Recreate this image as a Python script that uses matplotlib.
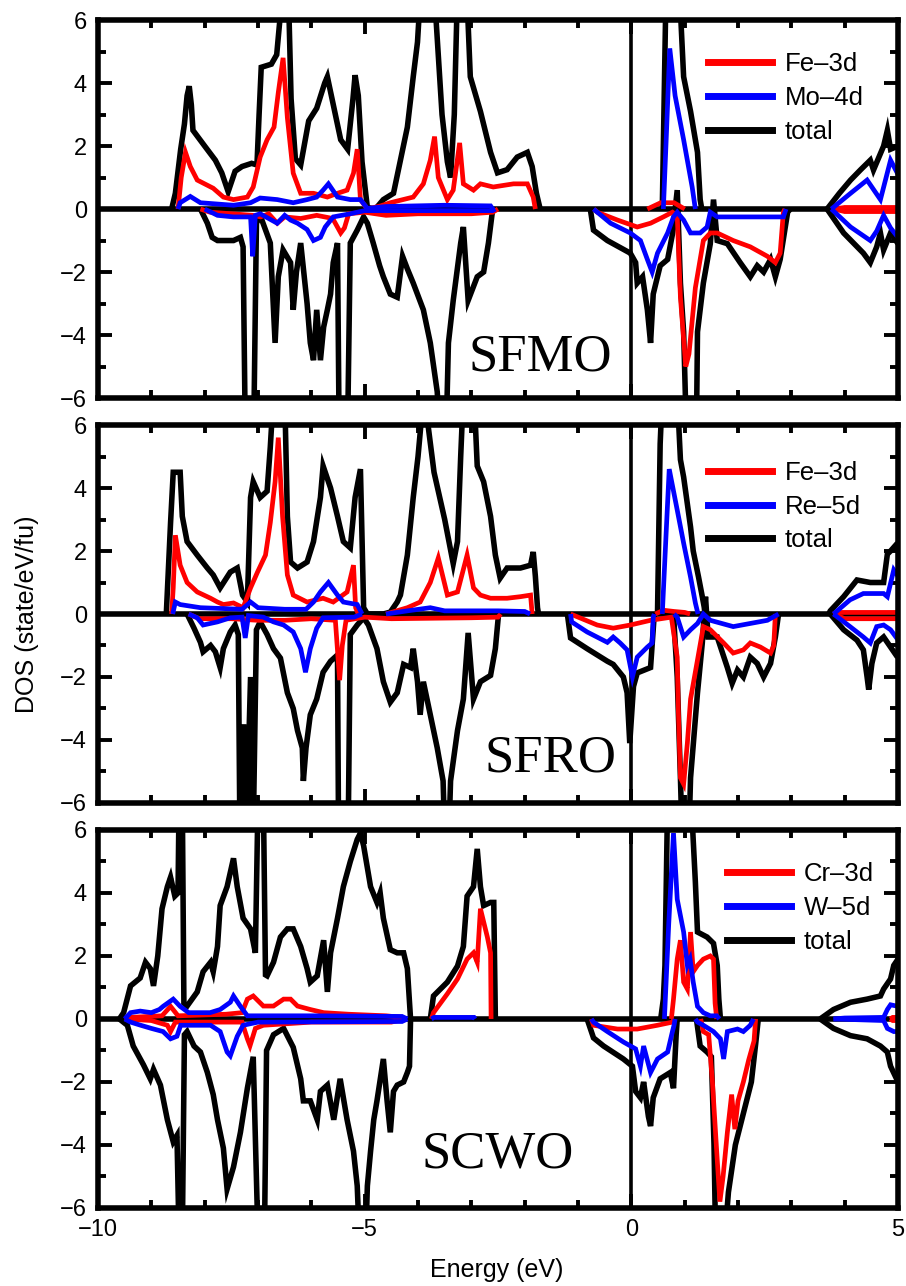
import numpy as np
import matplotlib
matplotlib.use("Agg")
import matplotlib.pyplot as plt
from matplotlib.lines import Line2D
from matplotlib.ticker import MultipleLocator

plt.rcParams["font.family"] = ["Liberation Sans", "DejaVu Sans"]

# Break marker between separate energy windows of one curve
GAP = (np.nan, np.nan)

# ---------------- SFMO: (energy eV, DOS state/eV/fu) ----------------
sfmo_total_up = [
    (-8.62, 0), (-8.55, 0.5), (-8.45, 1.9), (-8.38, 2.7), (-8.33, 3.6), (-8.29, 3.9), (-8.25, 3.3),
    (-8.22, 2.5), (-8.0, 2.0), (-7.8, 1.55), (-7.68, 1.15), (-7.56, 0.55), (-7.43, 1.2), (-7.3, 1.35),
    (-7.12, 1.45), (-7.02, 1.4), (-6.98, 3.0), (-6.94, 4.5), (-6.75, 4.6), (-6.65, 4.9), (-6.58, 6.2),
    (-6.52, 6.8), (-6.42, 6.2), (-6.38, 3.5), (-6.3, 1.6), (-6.2, 1.4), (-6.05, 2.8), (-5.9, 3.2),
    (-5.75, 4.0), (-5.7, 4.2), (-5.55, 3.0), (-5.45, 2.2), (-5.32, 1.9), (-5.22, 3.5), (-5.18, 4.25),
    (-5.12, 3.6), (-5.05, 1.5), (-4.95, 0.05), (-4.8, 0.0), (-4.65, 0.3), (-4.46, 0.5), (-4.33, 1.55),
    (-4.2, 2.6), (-4.09, 4.2), (-4.01, 5.3), (-3.95, 7.0), (-3.75, 7.5), (-3.68, 6.5), (-3.55, 3.0),
    (-3.45, 1.5), (-3.39, 1.0), (-3.32, 3.0), (-3.26, 7.0), (-3.1, 7.5), (-3.02, 4.2), (-2.83, 3.1),
    (-2.64, 1.8), (-2.51, 1.15), (-2.33, 1.25), (-2.14, 1.65), (-1.95, 1.8), (-1.86, 1.35),
    (-1.78, 0.5), (-1.71, 0.0), GAP,
    (0.58, 0), (0.62, 4.0), (0.65, 7.0), (0.9, 7.0), (0.98, 4.2), (1.11, 3.1), (1.24, 1.8),
    (1.29, 0.3), (1.32, 0), GAP,
    (3.67, 0), (3.9, 0.5), (4.11, 0.92), (4.3, 1.25), (4.48, 1.55), (4.54, 1.24), (4.73, 2.0),
    (4.8, 2.5), (4.86, 1.9), (5.0, 2.0),
]
sfmo_total_dn = [
    (-8.08, 0), (-7.95, -0.45), (-7.86, -0.9), (-7.76, -1.0), (-7.46, -1.0), (-7.33, -0.9),
    (-7.28, -1.2), (-7.24, -7.0), (-7.08, -7.0), (-7.03, -0.45), (-6.96, -0.2), (-6.83, -0.8),
    (-6.77, -1.08), (-6.68, -4.25), (-6.62, -2.15), (-6.53, -1.3), (-6.39, -1.7), (-6.34, -3.2),
    (-6.28, -2.0), (-6.2, -1.08), (-6.08, -3.0), (-6.02, -4.25), (-5.96, -4.8), (-5.9, -3.2),
    (-5.83, -4.8), (-5.77, -3.75), (-5.7, -3.2), (-5.64, -2.7), (-5.59, -1.7), (-5.51, -1.08),
    (-5.48, -7.0), (-5.32, -7.0), (-5.27, -1.08), (-5.14, -0.67), (-5.02, -0.25), (-4.95, -0.45),
    (-4.84, -1.08), (-4.72, -1.8), (-4.65, -2.15), (-4.52, -2.7), (-4.39, -2.8), (-4.29, -1.5),
    (-4.2, -1.9), (-4.09, -2.35), (-3.9, -3.2), (-3.77, -4.25), (-3.64, -5.8), (-3.6, -7.0),
    (-3.47, -7.0), (-3.43, -4.25), (-3.34, -2.9), (-3.2, -1.08), (-3.15, -0.57), (-3.06, -2.9),
    (-2.89, -2.15), (-2.77, -2.0), (-2.68, -1.08), (-2.6, 0), GAP,
    (-0.77, 0), (-0.71, -0.67), (-0.45, -1.0), (-0.02, -1.4), (0.08, -1.7), (0.11, -2.35),
    (0.21, -2.15), (0.3, -3.2), (0.36, -4.25), (0.41, -2.7), (0.54, -1.8), (0.68, -1.6),
    (0.77, -0.8), (0.86, 0.6), (0.92, -2.35), (0.98, -3.9), (1.03, -7.0), (1.22, -7.0),
    (1.24, -3.9), (1.35, -2.35), (1.48, -1.1), (1.54, 0.3), (1.61, -1.0), (1.8, -1.1),
    (2.04, -1.7), (2.23, -2.15), (2.36, -1.8), (2.48, -2.0), (2.61, -1.6), (2.7, -2.15),
    (2.79, -1.6), (2.93, -0.1), (2.98, 0), GAP,
    (3.67, 0), (3.98, -0.76), (4.35, -1.4), (4.48, -1.7), (4.6, -1.2), (4.67, -0.76),
    (4.73, -1.3), (4.86, -0.76), (5.0, -1.1),
]
sfmo_fe_up = [
    (-8.5, 0), (-8.44, 1.0), (-8.36, 1.8), (-8.27, 1.35), (-8.14, 0.92), (-7.84, 0.66),
    (-7.65, 0.38), (-7.46, 0.3), (-7.2, 0.38), (-7.09, 0.7), (-6.96, 1.65), (-6.83, 2.2),
    (-6.7, 2.6), (-6.62, 3.7), (-6.53, 4.8), (-6.45, 2.9), (-6.34, 1.14), (-6.2, 0.5),
    (-5.96, 0.5), (-5.7, 0.38), (-5.51, 0.5), (-5.33, 0.6), (-5.21, 1.14), (-5.14, 1.9),
    (-5.08, 0.3), (-4.95, 0.0), (-4.7, 0.1), (-4.52, 0.2), (-4.09, 0.38), (-3.9, 0.8),
    (-3.77, 1.55), (-3.69, 2.3), (-3.62, 1.0), (-3.45, 0.3), (-3.34, 0.6), (-3.22, 2.1),
    (-3.15, 0.8), (-2.96, 0.6), (-2.83, 0.8), (-2.59, 0.7), (-2.21, 0.8), (-1.95, 0.8),
    (-1.84, 0.38), (-1.8, 0), GAP,
    (0.3, 0), (0.55, 0.2), (0.8, 0.2), (1.0, 0), GAP,
    (3.8, 0), (4.0, 0.05), (5.0, 0.05),
]
sfmo_fe_dn = [
    (-8.08, 0), (-7.9, -0.1), (-7.5, -0.15), (-7.1, -0.2), (-6.95, -0.25), (-6.8, -0.15),
    (-6.64, -0.45), (-6.5, -0.25), (-6.2, -0.3), (-5.9, -0.2), (-5.6, -0.3), (-5.45, -0.76),
    (-5.38, -0.6), (-5.3, -0.15), (-5.0, -0.1), (-4.6, -0.2), (-4.0, -0.15), (-3.0, -0.15),
    (-2.6, -0.1), (-2.5, 0), GAP,
    (-0.7, 0), (-0.64, -0.1), (-0.26, -0.35), (0.11, -0.57), (0.36, -0.45), (0.6, -0.25),
    (0.77, -0.1), (0.86, -0.2), (0.92, -2.8), (1.02, -5.0), (1.08, -4.6), (1.2, -2.5),
    (1.35, -1.0), (1.48, -0.76), (1.61, -0.76), (1.91, -1.0), (2.23, -1.2), (2.55, -1.5),
    (2.7, -1.7), (2.79, -1.4), (2.85, -0.1), (2.88, 0), GAP,
    (3.8, 0), (4.0, -0.08), (5.0, -0.08),
]
sfmo_mo_up = [
    (-8.5, 0), (-8.46, 0.2), (-8.27, 0.4), (-8.08, 0.2), (-7.46, 0.12), (-7.14, 0.2),
    (-6.96, 0.35), (-6.64, 0.3), (-6.34, 0.2), (-6.08, 0.3), (-5.9, 0.38), (-5.78, 0.6),
    (-5.68, 0.8), (-5.51, 0.38), (-5.27, 0.3), (-5.08, 0.3), (-4.95, 0.02), (-4.6, 0.08),
    (-3.5, 0.12), (-2.64, 0.1), (-2.6, 0), GAP,
    (0.6, 0), (0.66, 2.5), (0.72, 5.1), (0.82, 3.6), (0.98, 2.2), (1.14, 0.7), (1.2, 0), GAP,
    (3.75, 0), (4.11, 0.5), (4.42, 0.92), (4.67, 0.3), (4.86, 1.55), (5.0, 1.1),
]
sfmo_mo_dn = [
    (-8.0, 0), (-7.76, -0.2), (-7.46, -0.25), (-7.14, -0.25), (-7.1, -1.5), (-7.05, -0.2),
    (-6.96, -0.15), (-6.64, -0.45), (-6.5, -0.2), (-6.39, -0.35), (-6.26, -0.45), (-6.08, -0.65),
    (-5.96, -1.0), (-5.83, -0.9), (-5.74, -0.57), (-5.59, -0.25), (-5.27, -0.15), (-5.0, -0.05),
    (-2.6, -0.05), (-2.55, 0), GAP,
    (-0.71, 0), (-0.39, -0.45), (-0.02, -0.76), (0.17, -1.0), (0.3, -1.6), (0.39, -2.0),
    (0.49, -1.4), (0.68, -0.76), (0.79, -0.25), (0.86, -0.1), (0.98, -0.35), (1.11, -0.76),
    (1.29, -0.76), (1.42, -0.57), (1.48, -0.1), (1.61, -0.25), (2.85, -0.25), (2.9, 0), GAP,
    (3.75, 0), (4.11, -0.57), (4.48, -1.0), (4.6, -0.7), (4.73, -0.2), (4.86, -0.6), (5.0, -0.9),
]

# ---------------- SFRO ----------------
sfro_total_up = [
    (-8.72, 0), (-8.64, 2.9), (-8.59, 4.5), (-8.46, 4.5), (-8.42, 3.1), (-8.33, 2.3), (-8.14, 1.87),
    (-7.95, 1.46), (-7.84, 1.24), (-7.71, 0.83), (-7.52, 1.33), (-7.39, 1.46), (-7.29, 0.6),
    (-7.2, 0.38), (-7.14, 3.7), (-7.09, 4.2), (-6.96, 3.7), (-6.83, 3.9), (-6.77, 5.3), (-6.71, 7.0),
    (-6.5, 7.0), (-6.45, 3.1), (-6.39, 1.65), (-6.26, 1.46), (-6.08, 1.65), (-5.96, 2.3),
    (-5.83, 3.7), (-5.78, 4.7), (-5.64, 4.0), (-5.51, 3.1), (-5.4, 2.3), (-5.27, 2.1), (-5.18, 3.7),
    (-5.08, 4.6), (-5.02, 0.2), (-4.95, 0), (-4.65, 0.0), (-4.52, 0.06), (-4.39, 0.38),
    (-4.33, 0.6), (-4.2, 1.87), (-4.09, 3.7), (-4.0, 5.0), (-3.92, 6.5), (-3.85, 6.5), (-3.7, 4.5),
    (-3.5, 3.0), (-3.34, 1.6), (-3.26, 2.3), (-3.2, 5.0), (-3.15, 7.0), (-2.95, 7.0), (-2.89, 4.7),
    (-2.77, 4.2), (-2.64, 3.1), (-2.55, 1.87), (-2.46, 1.14), (-2.33, 1.46), (-2.08, 1.46),
    (-1.89, 1.55), (-1.84, 1.97), (-1.8, 1.2), (-1.76, 0.2), (-1.74, 0), GAP,
    (0.49, 0), (0.54, 5.4), (0.58, 7.0), (0.86, 7.0), (0.92, 4.9), (0.98, 4.35), (1.11, 2.76),
    (1.16, 2.0), (1.26, 1.17), (1.33, 0.55), (1.39, 0), GAP,
    (3.7, 0), (3.73, 0.1), (3.98, 0.55), (4.23, 1.08), (4.48, 1.0), (4.73, 1.0), (4.8, 1.9),
    (4.86, 2.0), (4.99, 2.25),
]
sfro_total_dn = [
    (-8.33, 0), (-8.2, -0.45), (-8.08, -0.9), (-8.03, -1.2), (-7.89, -1.0), (-7.8, -1.2),
    (-7.71, -1.7), (-7.65, -1.1), (-7.52, -0.57), (-7.43, -0.35), (-7.37, -0.65), (-7.34, -7.0),
    (-7.27, -3.5), (-7.22, -7.0), (-7.14, -2.0), (-7.09, -7.0), (-7.03, -0.5), (-6.96, -0.25),
    (-6.83, -0.65), (-6.71, -1.1), (-6.58, -1.4), (-6.45, -2.5), (-6.34, -3.0), (-6.26, -3.7),
    (-6.17, -4.25), (-6.15, -5.3), (-6.1, -4.25), (-6.02, -3.2), (-5.9, -2.7), (-5.78, -1.85),
    (-5.64, -1.5), (-5.51, -1.3), (-5.49, -7.0), (-5.31, -7.0), (-5.27, -0.65), (-5.14, -0.35),
    (-5.02, -0.12), (-4.93, -0.35), (-4.77, -1.1), (-4.65, -2.15), (-4.52, -2.8), (-4.39, -2.5),
    (-4.27, -1.6), (-4.14, -1.7), (-4.09, -1.1), (-4.01, -2.15), (-3.96, -3.2), (-3.9, -2.15),
    (-3.77, -3.2), (-3.64, -4.25), (-3.53, -5.3), (-3.5, -7.0), (-3.42, -7.0), (-3.39, -5.3),
    (-3.26, -3.7), (-3.15, -2.7), (-3.06, -0.6), (-2.96, -2.7), (-2.83, -2.15), (-2.64, -1.95),
    (-2.55, -1.1), (-2.49, 0), GAP,
    (-1.2, 0), (-1.14, -0.76), (-0.83, -1.1), (-0.45, -1.5), (-0.34, -1.6), (-0.15, -2.0),
    (-0.08, -2.5), (-0.03, -4.1), (0.04, -2.3), (0.11, -1.87), (0.36, -1.7), (0.43, 0), GAP,
    (0.79, 0), (0.86, -2.0), (0.92, -5.2), (0.95, -7.0), (1.08, -7.0), (1.11, -5.2), (1.24, -2.5),
    (1.33, -0.92), (1.39, 0.55), (1.44, -0.73), (1.61, -0.73), (1.8, -1.7), (1.89, -2.2),
    (1.99, -1.78), (2.1, -2.0), (2.23, -1.37), (2.36, -1.57), (2.48, -2.0), (2.61, -1.57),
    (2.7, -0.73), (2.76, 0), GAP,
    (3.73, 0), (3.98, -0.5), (4.23, -0.83), (4.35, -1.14), (4.42, -2.0), (4.45, -2.4),
    (4.51, -1.57), (4.6, -0.92), (4.73, -0.73), (4.86, -1.05), (4.99, -1.37),
]
sfro_fe_up = [
    (-8.62, 0), (-8.59, 0.83), (-8.55, 2.5), (-8.46, 1.55), (-8.33, 1.0), (-8.14, 0.7),
    (-7.89, 0.5), (-7.76, 0.38), (-7.65, 0.3), (-7.46, 0.35), (-7.28, 0.2), (-7.14, 0.83),
    (-7.01, 1.33), (-6.86, 1.87), (-6.77, 2.9), (-6.68, 4.2), (-6.62, 5.6), (-6.54, 3.1),
    (-6.45, 1.24), (-6.34, 0.6), (-6.08, 0.38), (-5.78, 0.5), (-5.59, 0.38), (-5.33, 0.7),
    (-5.21, 1.55), (-5.17, 0.2), (-5.12, 0), GAP,
    (-4.6, 0), (-4.2, 0.2), (-3.96, 0.38), (-3.77, 1.0), (-3.62, 1.78), (-3.45, 0.6),
    (-3.26, 0.7), (-3.08, 1.87), (-2.96, 0.83), (-2.83, 0.6), (-2.64, 0.5), (-2.33, 0.5),
    (-2.08, 0.55), (-1.89, 0.6), (-1.86, 0), GAP,
    (0.45, 0), (0.6, 0.12), (0.8, 0.08), (1.0, 0.05), (1.1, 0), GAP,
    (3.78, 0), (3.9, 0.05), (5.0, 0.05),
]
sfro_fe_dn = [
    (-8.3, 0), (-8.1, -0.15), (-7.5, -0.15), (-7.0, -0.2), (-6.5, -0.2), (-6.0, -0.15),
    (-5.55, -0.2), (-5.47, -2.1), (-5.42, -1.0), (-5.35, -0.2), (-5.0, -0.1), (-4.5, -0.15),
    (-3.0, -0.12), (-2.5, -0.1), (-2.45, 0), GAP,
    (-1.14, 0), (-0.64, -0.35), (-0.34, -0.45), (-0.02, -0.35), (0.36, -0.2), (0.75, -0.1),
    (0.86, -1.37), (0.88, -3.0), (0.92, -5.2), (0.98, -5.4), (1.05, -4.1), (1.11, -2.7),
    (1.24, -1.46), (1.35, -0.4), (1.48, -0.5), (1.73, -0.92), (1.91, -1.24), (2.1, -1.14),
    (2.23, -0.92), (2.42, -1.05), (2.61, -1.24), (2.67, -1.0), (2.7, 0), GAP,
    (3.8, 0), (4.0, -0.15), (5.0, -0.15),
]
sfro_re_up = [
    (-8.6, 0), (-8.55, 0.38), (-8.46, 0.3), (-8.08, 0.2), (-7.3, 0.15), (-7.14, 0.38),
    (-7.0, 0.2), (-6.5, 0.15), (-6.1, 0.15), (-5.96, 0.38), (-5.83, 0.7), (-5.68, 1.0),
    (-5.51, 0.6), (-5.4, 0.38), (-5.14, 0.3), (-5.05, 0), GAP,
    (-4.6, 0), (-4.2, 0.1), (-3.77, 0.2), (-3.5, 0.1), (-2.5, 0.1), (-2.0, 0.08), (-1.9, 0), GAP,
    (0.58, 0), (0.65, 2.5), (0.71, 4.6), (0.86, 3.3), (0.98, 2.25), (1.11, 1.17), (1.2, 0.35),
    (1.25, 0), GAP,
    (3.79, 0), (4.1, 0.45), (4.35, 0.65), (4.73, 0.65), (4.8, 0.55), (4.92, 1.4), (5.0, 1.2),
]
sfro_re_dn = [
    (-8.3, 0), (-8.14, -0.12), (-8.03, -0.35), (-7.76, -0.25), (-7.52, -0.12), (-7.3, -0.1),
    (-7.24, -0.76), (-7.18, -0.05), (-6.9, -0.1), (-6.71, -0.25), (-6.52, -0.35), (-6.34, -0.57),
    (-6.2, -1.1), (-6.11, -1.85), (-6.02, -1.1), (-5.9, -0.45), (-5.78, -0.12), (-5.2, -0.1),
    (-5.05, 0), GAP,
    (-1.14, 0), (-1.12, -0.25), (-0.83, -0.57), (-0.45, -0.9), (-0.34, -0.73), (-0.21, -0.92),
    (-0.08, -1.14), (0.02, -2.0), (0.11, -1.37), (0.3, -1.05), (0.39, -0.92), (0.41, -0.1),
    (0.43, 0), GAP,
    (0.8, 0), (0.86, -0.1), (0.98, -0.73), (1.11, -0.5), (1.24, -0.3), (1.35, 0), (1.48, -0.2),
    (1.91, -0.4), (2.23, -0.3), (2.55, -0.2), (2.76, 0), GAP,
    (3.79, 0), (4.1, -0.4), (4.35, -0.73), (4.48, -0.92), (4.6, -0.4), (4.73, -0.35),
    (4.86, -0.5), (4.99, -0.8),
]

# ---------------- SCWO ----------------
scwo_total_up = [
    (-9.6, 0), (-9.52, 0.2), (-9.39, 1.05), (-9.21, 1.3), (-9.11, 1.8), (-9.02, 1.6), (-8.96, 1.05),
    (-8.88, 2.0), (-8.8, 3.5), (-8.7, 4.2), (-8.64, 4.5), (-8.56, 3.9), (-8.5, 4.0), (-8.48, 7.0),
    (-8.42, 7.0), (-8.39, 0.5), (-8.33, 0.41), (-8.14, 0.86), (-8.03, 1.5), (-7.89, 1.8),
    (-7.84, 1.5), (-7.76, 2.3), (-7.71, 3.6), (-7.58, 4.2), (-7.46, 5.1), (-7.39, 4.2),
    (-7.28, 3.2), (-7.14, 2.86), (-7.05, 2.1), (-7.0, 7.0), (-6.9, 7.0), (-6.86, 1.4),
    (-6.83, 1.37), (-6.71, 1.8), (-6.58, 2.6), (-6.45, 2.86), (-6.34, 2.86), (-6.2, 2.3),
    (-6.08, 1.6), (-6.02, 1.17), (-5.89, 1.37), (-5.77, 2.5), (-5.7, 0.86), (-5.64, 2.1),
    (-5.51, 3.2), (-5.4, 4.2), (-5.27, 5.0), (-5.14, 5.7), (-5.08, 5.9), (-5.02, 5.5),
    (-4.89, 4.2), (-4.77, 3.7), (-4.71, 4.0), (-4.65, 3.2), (-4.52, 2.2), (-4.39, 2.1),
    (-4.27, 2.1), (-4.2, 1.6), (-4.14, 0), GAP,
    (-3.77, 0), (-3.71, 0.73), (-3.45, 1.17), (-3.26, 1.68), (-3.15, 2.3), (-3.08, 3.9),
    (-2.96, 4.2), (-2.89, 5.4), (-2.83, 4.2), (-2.77, 3.6), (-2.64, 3.7), (-2.58, 3.7),
    (-2.55, 0), GAP,
    (0.55, 0), (0.6, 0.63), (0.63, 1.7), (0.68, 7.0), (1.12, 7.0), (1.2, 4.35), (1.24, 2.76),
    (1.42, 2.6), (1.54, 2.4), (1.61, 1.7), (1.64, 0.63), (1.67, 0), GAP,
    (3.54, 0), (3.79, 0.3), (4.11, 0.53), (4.42, 0.63), (4.67, 0.73), (4.73, 0.95), (4.86, 1.27),
    (4.92, 1.7), (5.0, 1.9),
]
scwo_total_dn = [
    (-9.6, 0), (-9.45, -0.2), (-9.34, -0.86), (-9.15, -1.45), (-9.02, -1.9), (-8.96, -1.6),
    (-8.83, -2.1), (-8.7, -3.2), (-8.59, -3.9), (-8.52, -3.7), (-8.48, -7.0), (-8.42, -7.0),
    (-8.38, -0.5), (-8.33, -0.4), (-8.2, -0.86), (-8.08, -1.05), (-7.95, -1.7), (-7.84, -2.4),
    (-7.76, -3.2), (-7.65, -4.1), (-7.58, -5.4), (-7.46, -4.7), (-7.33, -3.6), (-7.2, -2.2),
    (-7.09, -1.2), (-7.0, -7.0), (-6.88, -7.0), (-6.84, -1.0), (-6.71, -0.5), (-6.52, -0.3),
    (-6.34, -0.9), (-6.2, -1.9), (-6.15, -2.6), (-6.02, -2.6), (-5.89, -3.2), (-5.83, -2.3),
    (-5.7, -2.1), (-5.58, -3.2), (-5.46, -1.9), (-5.33, -3.2), (-5.21, -4.2), (-5.14, -5.3),
    (-5.1, -7.0), (-4.98, -7.0), (-4.95, -5.3), (-4.89, -4.2), (-4.83, -3.2), (-4.77, -2.6),
    (-4.65, -1.27), (-4.58, -2.6), (-4.52, -3.6), (-4.46, -2.3), (-4.39, -2.1), (-4.27, -2.0),
    (-4.2, -1.7), (-4.16, -1.5), (-4.14, 0), GAP,
    (-0.83, 0), (-0.71, -0.6), (-0.52, -0.86), (-0.15, -1.27), (0.02, -1.5), (0.08, -2.3),
    (0.17, -2.5), (0.23, -2.0), (0.32, -3.1), (0.36, -3.4), (0.41, -2.5), (0.54, -1.9),
    (0.73, -1.7), (0.79, -2.2), (0.84, -0.5), (0.86, 0), GAP,
    (1.22, 0), (1.29, -0.86), (1.42, -1.05), (1.5, -1.2), (1.55, -4.0), (1.58, -7.0), (1.75, -7.0),
    (1.82, -5.5), (1.95, -4.0), (2.1, -3.0), (2.25, -2.0), (2.33, -0.8), (2.38, 0), GAP,
    (3.54, 0), (3.79, -0.3), (4.11, -0.53), (4.42, -0.63), (4.67, -0.86), (4.8, -1.05),
    (4.86, -1.5), (5.0, -2.0),
]
scwo_cr_up = [
    (-9.5, 0), (-9.4, 0.05), (-8.8, 0.1), (-8.64, 0.4), (-8.5, 0.1), (-7.6, 0.15), (-7.3, 0.2),
    (-7.2, 0.63), (-7.09, 0.73), (-6.9, 0.41), (-6.71, 0.41), (-6.52, 0.63), (-6.39, 0.63),
    (-6.26, 0.41), (-6.02, 0.3), (-5.77, 0.2), (-5.3, 0.15), (-4.6, 0.1), (-4.3, 0.05),
    (-4.25, 0), GAP,
    (-3.75, 0), (-3.71, 0.2), (-3.45, 0.8), (-3.26, 1.27), (-3.08, 1.9), (-2.96, 2.1),
    (-2.89, 1.8), (-2.83, 3.5), (-2.7, 2.6), (-2.64, 2.1), (-2.63, 0), GAP,
    (0.75, 0), (0.79, 0.63), (0.86, 1.9), (0.92, 2.5), (0.98, 1.17), (1.05, 0.95), (1.11, 2.76),
    (1.16, 1.5), (1.24, 1.7), (1.35, 1.9), (1.48, 2.0), (1.54, 1.9), (1.57, 0.5), (1.6, 0), GAP,
    (4.85, 0), (4.9, 0.05), (5.0, 0.05),
]
scwo_cr_dn = [
    (-9.5, 0), (-9.0, -0.05), (-8.7, -0.2), (-8.64, -0.4), (-8.55, -0.1), (-7.3, -0.1),
    (-7.2, -0.63), (-7.15, -0.85), (-7.05, -0.3), (-6.9, -0.2), (-6.0, -0.1), (-4.5, -0.1),
    (-4.25, 0), GAP,
    (-0.75, 0), (-0.71, -0.2), (-0.26, -0.32), (0.11, -0.32), (0.49, -0.2), (0.77, -0.1),
    (0.8, 0), GAP,
    (1.3, 0), (1.35, -0.4), (1.45, -0.5), (1.52, -2.0), (1.6, -4.2), (1.66, -5.8), (1.72, -5.0),
    (1.8, -3.6), (1.88, -2.4), (1.94, -3.5), (2.0, -2.6), (2.1, -2.0), (2.2, -1.3), (2.3, -0.7),
    (2.33, 0), GAP,
    (4.85, 0), (4.9, -0.05), (5.0, -0.05),
]
scwo_w_up = [
    (-9.5, 0), (-9.39, 0.2), (-9.21, 0.25), (-9.0, 0.2), (-8.85, 0.3), (-8.78, 0.4), (-8.59, 0.63),
    (-8.46, 0.4), (-8.3, 0.2), (-7.9, 0.2), (-7.71, 0.3), (-7.52, 0.53), (-7.46, 0.73),
    (-7.33, 0.4), (-7.2, 0.1), (-6.0, 0.1), (-4.3, 0.08), (-4.2, 0), GAP,
    (-3.75, 0), (-3.7, 0.05), (-2.95, 0.05), (-2.93, 0), GAP,
    (0.62, 0), (0.7, 3.0), (0.79, 5.9), (0.86, 3.8), (0.98, 2.76), (1.05, 1.7), (1.1, 1.9),
    (1.16, 1.17), (1.24, 0.4), (1.35, 0.2), (1.48, 0.1), (1.6, 0.1), (1.65, 0), GAP,
    (3.79, 0), (4.0, 0.03), (4.73, 0.05), (4.8, 0.3), (4.86, 0.45), (5.0, 0.4),
]
scwo_w_dn = [
    (-9.5, 0), (-9.39, -0.1), (-9.2, -0.2), (-9.0, -0.3), (-8.78, -0.4), (-8.64, -0.63),
    (-8.52, -0.55), (-8.45, -0.2), (-7.89, -0.2), (-7.71, -0.4), (-7.58, -1.05), (-7.52, -1.17),
    (-7.39, -0.55), (-7.28, -0.2), (-7.0, -0.1), (-4.3, -0.08), (-4.2, 0), GAP,
    (-0.75, 0), (-0.71, -0.1), (-0.45, -0.4), (-0.15, -0.73), (0.08, -0.95), (0.17, -1.5),
    (0.23, -0.86), (0.36, -1.7), (0.49, -1.27), (0.68, -1.05), (0.77, -0.4), (0.8, -0.2),
    (0.82, 0), GAP,
    (1.2, 0), (1.24, -0.1), (1.35, -0.2), (1.54, -0.4), (1.67, -0.63), (1.73, -1.27), (1.8, -0.4),
    (1.99, -0.32), (2.1, -0.4), (2.23, -0.2), (2.29, 0), GAP,
    (3.79, 0), (4.73, -0.05), (4.8, -0.3), (4.92, -0.4), (5.0, -0.4),
]

compounds = ["SFMO", "SFRO", "SCWO"]
legend_labels = [
    ["Fe\u20133d", "Mo\u20134d", "total"],
    ["Fe\u20133d", "Re\u20135d", "total"],
    ["Cr\u20133d", "W\u20135d", "total"],
]
curves = [
    (sfmo_total_up, sfmo_total_dn, sfmo_fe_up, sfmo_fe_dn, sfmo_mo_up, sfmo_mo_dn),
    (sfro_total_up, sfro_total_dn, sfro_fe_up, sfro_fe_dn, sfro_re_up, sfro_re_dn),
    (scwo_total_up, scwo_total_dn, scwo_cr_up, scwo_cr_dn, scwo_w_up, scwo_w_dn),
]
x_ticklabels = ["\u221210", "\u22125", "0", "5"]

RED, BLUE, BLACK = "#ff0000", "#0000ff", "#000000"

fig = plt.figure(figsize=(9.06, 12.86), dpi=100)
left, width, height = 0.1082, 0.883, 0.2939
bottoms = [0.6905, 0.3756, 0.0607]
name_pos = [(0.5525, 0.074), (0.565, 0.082), (0.499, 0.106)]
legend_pos = [(0.762, 0.915), (0.762, 0.905), (0.786, 0.915)]


def draw(ax, pts, color, lw, z):
    arr = np.array(pts, dtype=float)
    ax.plot(arr[:, 0], arr[:, 1], color=color, lw=lw, zorder=z,
            solid_joinstyle="miter", solid_capstyle="butt")


for i, ax_bottom in enumerate(bottoms):
    ax = fig.add_axes([left, ax_bottom, width, height])
    ax.set_xlim(-10, 5)
    ax.set_ylim(-6, 6)
    ax.axhline(0, color=BLACK, lw=4.0, zorder=1)
    ax.axvline(0, color=BLACK, lw=2.6, zorder=1.5)

    tot_up, tot_dn, a_up, a_dn, b_up, b_dn = curves[i]
    for c in (tot_up, tot_dn):
        draw(ax, c, BLACK, 4.0, 2)
    for c in (a_up, a_dn):
        draw(ax, c, RED, 3.4, 3)
    for c in (b_up, b_dn):
        draw(ax, c, BLUE, 3.4, 4)

    ax.xaxis.set_major_locator(MultipleLocator(5))
    ax.xaxis.set_minor_locator(MultipleLocator(1))
    ax.yaxis.set_major_locator(MultipleLocator(2))
    ax.yaxis.set_minor_locator(MultipleLocator(1))
    ax.tick_params(which="both", direction="in", top=True, right=True,
                   width=2.8, labelsize=17, pad=8)
    ax.tick_params(which="major", length=10)
    ax.tick_params(which="minor", length=6)
    ax.set_yticks([-6, -4, -2, 0, 2, 4, 6])
    ax.set_yticklabels(["\u22126", "\u22124", "\u22122", "0", "2", "4", "6"])
    if i < 2:
        ax.set_xticklabels([])
    else:
        ax.set_xticks([-10, -5, 0, 5])
        ax.set_xticklabels(x_ticklabels)
    for sp in ax.spines.values():
        sp.set_linewidth(4.0)
        sp.set_zorder(6)

    handles = [Line2D([], [], color=RED, lw=5),
               Line2D([], [], color=BLUE, lw=5),
               Line2D([], [], color=BLACK, lw=5)]
    ax.legend(handles, legend_labels[i], loc="upper left",
              bbox_to_anchor=legend_pos[i], bbox_transform=ax.transAxes,
              frameon=False, fontsize=18.5, handlelength=2.5, handletextpad=0.5,
              labelspacing=0.38, borderpad=0, borderaxespad=0)

    nx, ny = name_pos[i]
    ax.text(nx, ny, compounds[i], transform=ax.transAxes, ha="center", va="baseline",
            fontsize=38, family=["Liberation Serif", "DejaVu Serif"], zorder=7)

fig.text(27 / 906, 1 - 614 / 1286, "DOS (state/eV/fu)", rotation=90,
         ha="center", va="center", fontsize=18)
fig.text(497 / 906, 1 - 1270 / 1286, "Energy (eV)", ha="center", va="center",
         fontsize=18)

fig.savefig("out.png", dpi=100)
